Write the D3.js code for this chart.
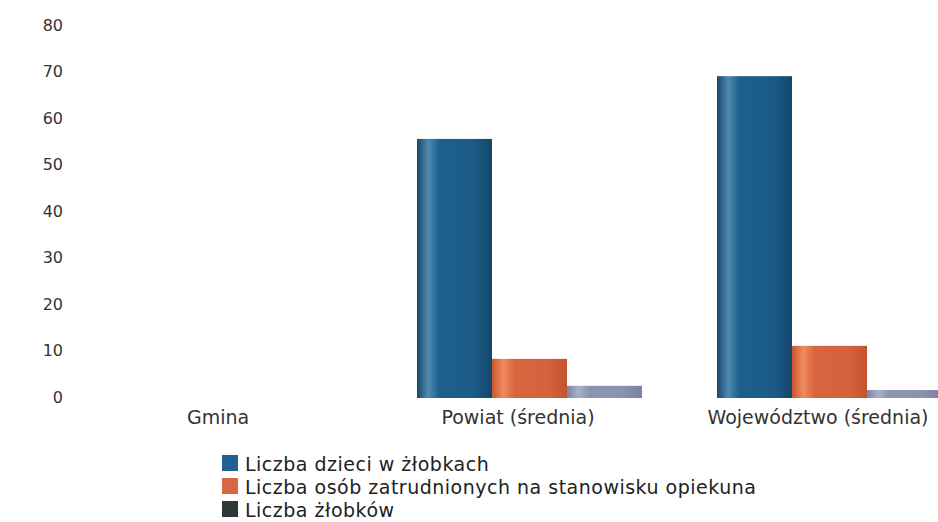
<!DOCTYPE html>
<html><head><meta charset="utf-8">
<script src="https://cdn.jsdelivr.net/npm/d3@7"></script>
<style>body{margin:0;background:#fff;} text{font-family:"DejaVu Sans",sans-serif;}</style>
</head><body>
<svg id="c" width="938" height="522"></svg>
<script>
const categories = ["Gmina", "Powiat (średnia)", "Województwo (średnia)"];
const seriesNames = ["Liczba dzieci w żłobkach", "Liczba osób zatrudnionych na stanowisku opiekuna", "Liczba żłobków"];
const dzieci = [0, 55.5, 69];
const opiekunowie = [0, 8.2, 11];
const zlobki = [0, 2.4, 1.5];
const yTicks = [0, 10, 20, 30, 40, 50, 60, 70, 80];

const series = [dzieci, opiekunowie, zlobki];
const barColors = [["#17476c","#4f8ab0","#1d5f8c","#1c5b88","#14466b"],
                   ["#c9552f","#f08a5f","#d8653f","#d4623c","#c3532f"],
                   ["#7b84a4","#a9b0c8","#8b93b2","#8a92b0","#7a829f"]];
const legendColors = ["#22608e", "#d9663f", "#2d3838"];

const svg = d3.select("#c");
const y = d3.scaleLinear().domain([0, 80]).range([397, 25]);
const x = d3.scaleBand().domain(categories).range([68, 968]);
const sub = d3.scaleBand().domain([0,1,2]).range([49, 274]);

const defs = svg.append("defs");
barColors.forEach((cs, i) => {
  const g = defs.append("linearGradient").attr("id", "g" + i).attr("x1", "0").attr("x2", "1").attr("y1", "0").attr("y2", "0");
  [0, 0.15, 0.3, 0.75, 1].forEach((o, k) => g.append("stop").attr("offset", o).attr("stop-color", cs[k]));
});

// y axis labels
const yAxis = d3.axisLeft(y).tickValues(yTicks).tickSize(0).tickPadding(0);
const ga = svg.append("g").attr("transform", "translate(63,0)").call(yAxis);
ga.select(".domain").remove();
ga.selectAll("text").attr("font-size", 16).attr("fill", "#333").attr("font-family", "DejaVu Sans");

// bars
categories.forEach((c, ci) => {
  series.forEach((s, si) => {
    const v = s[ci];
    if (v <= 0) return;
    svg.append("rect")
      .attr("x", x(c) + sub(si))
      .attr("width", sub.bandwidth())
      .attr("y", y(v))
      .attr("height", y(0) - y(v) + 1)
      .attr("fill", "url(#g" + si + ")");
  });
});

// x labels
const xAxis = d3.axisBottom(x).tickSize(0).tickPadding(0);
const gx = svg.append("g").attr("transform", "translate(0,410)").call(xAxis);
gx.select(".domain").remove();
gx.selectAll("text").attr("font-size", 19).attr("fill", "#333").attr("font-family", "DejaVu Sans").attr("dy", "0.71em");

// legend
const lg = svg.append("g").attr("transform", "translate(222,455)");
seriesNames.forEach((n, i) => {
  const r = lg.append("g").attr("transform", `translate(0,${i * 23})`);
  r.append("rect").attr("width", 16).attr("height", 16).attr("fill", legendColors[i]);
  r.append("text").attr("x", 23).attr("y", 16).attr("font-size", 19).attr("letter-spacing", 0.5).attr("fill", "#222").text(n);
});
</script>
</body></html>
